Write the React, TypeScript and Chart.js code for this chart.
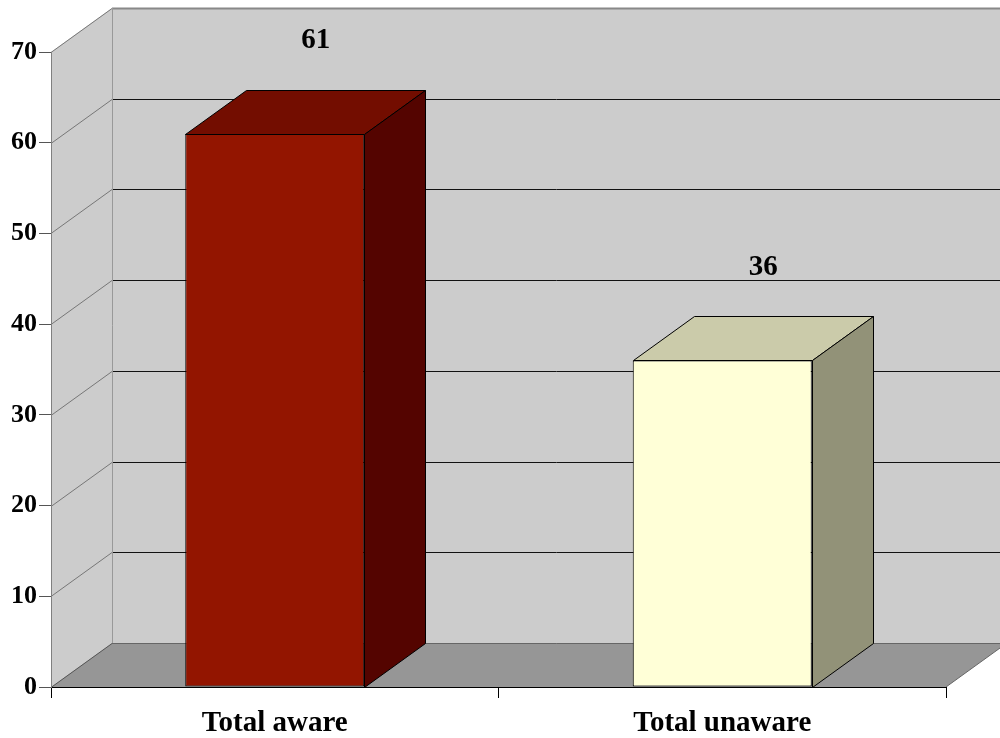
import React, { useEffect, useRef } from "react";
import { Chart, registerables } from "chart.js";

Chart.register(...registerables);

const categories = ["Total aware", "Total unaware"];
const values = [61, 36];
const yMin = 0;
const yMax = 70;
const yStep = 10;

const FRONT = ["#931500", "#FFFFD7"];
const TOP = ["#730D00", "#CBCBAA"];
const SIDE = ["#540400", "#929278"];
const WALL = "#CCCCCC";
const FLOOR = "#969696";
const DX = 61;
const DY = -44;
const FONT = '"Liberation Serif", "Times New Roman", serif';

const threeD = {
  id: "threeD",
  beforeDraw(chart: any) {
    const { ctx, chartArea } = chart;
    const ys = chart.scales.y;
    const { left, right, top, bottom } = chartArea;
    ctx.save();
    // back wall
    ctx.fillStyle = WALL;
    ctx.fillRect(left + DX, top + DY, right - left + 100, bottom - top);
    // side wall
    ctx.beginPath();
    ctx.moveTo(left, top);
    ctx.lineTo(left + DX, top + DY);
    ctx.lineTo(left + DX, bottom + DY);
    ctx.lineTo(left, bottom);
    ctx.closePath();
    ctx.fill();
    // floor
    ctx.fillStyle = FLOOR;
    ctx.beginPath();
    ctx.moveTo(left, bottom);
    ctx.lineTo(right, bottom);
    ctx.lineTo(right + DX, bottom + DY);
    ctx.lineTo(left + DX, bottom + DY);
    ctx.closePath();
    ctx.fill();
    // gridlines
    ctx.lineWidth = 1;
    for (let v = yMin; v <= yMax; v += yStep) {
      const yp = Math.round(ys.getPixelForValue(v));
      const yb = yp + DY + 0.5;
      ctx.strokeStyle = v === yMin ? "#666666" : v === yMax ? "#888888" : "#111111";
      ctx.lineWidth = v === yMax ? 2 : 1;
      ctx.beginPath();
      ctx.moveTo(left + DX, yb);
      ctx.lineTo(chart.width + 10, yb);
      ctx.stroke();
      ctx.lineWidth = 1;
      ctx.strokeStyle = v === yMin ? "#555555" : "#777777";
      ctx.beginPath();
      ctx.moveTo(left, yp + 0.5);
      ctx.lineTo(left + DX, yb);
      ctx.stroke();
    }
    // back wall left edge
    ctx.strokeStyle = "#999999";
    ctx.beginPath();
    ctx.moveTo(left + DX + 0.5, top + DY);
    ctx.lineTo(left + DX + 0.5, bottom + DY);
    ctx.stroke();
    // floor right edge
    ctx.strokeStyle = "#666666";
    ctx.beginPath();
    ctx.moveTo(right, bottom);
    ctx.lineTo(right + DX, bottom + DY);
    ctx.stroke();
    ctx.restore();
  },
  afterDatasetsDraw(chart: any) {
    const { ctx } = chart;
    const meta = chart.getDatasetMeta(0);
    ctx.save();
    ctx.lineWidth = 1;
    ctx.strokeStyle = "#000000";
    meta.data.forEach((bar: any, i: number) => {
      const { x, y, base, width } = bar.getProps(["x", "y", "base", "width"], true);
      const l = Math.round(x - width / 2) + 0.5;
      const r = Math.round(x + width / 2) + 0.5;
      const t = Math.round(y) + 0.5;
      const b = Math.round(base) + 0.5;
      // top face
      ctx.fillStyle = TOP[i];
      ctx.beginPath();
      ctx.moveTo(l, t);
      ctx.lineTo(r, t);
      ctx.lineTo(r + DX, t + DY);
      ctx.lineTo(l + DX, t + DY);
      ctx.closePath();
      ctx.fill();
      ctx.stroke();
      // side face
      ctx.fillStyle = SIDE[i];
      ctx.beginPath();
      ctx.moveTo(r, t);
      ctx.lineTo(r + DX, t + DY);
      ctx.lineTo(r + DX, b + DY);
      ctx.lineTo(r, b);
      ctx.closePath();
      ctx.fill();
      ctx.stroke();
      // value label
      ctx.fillStyle = "#000000";
      ctx.font = `bold 29px ${FONT}`;
      ctx.textAlign = "center";
      ctx.textBaseline = "middle";
      ctx.fillText(String(values[i]), x + 41, y - 93);
    });
    ctx.restore();
  },
};

export default function App() {
  const ref = useRef<HTMLCanvasElement | null>(null);
  useEffect(() => {
    if (!ref.current) return;
    const chart = new Chart(ref.current, {
      type: "bar",
      data: {
        labels: categories,
        datasets: [
          {
            data: values,
            backgroundColor: FRONT,
            borderColor: "#000000",
            borderWidth: 1,
            borderSkipped: false,
            barPercentage: 0.8,
            categoryPercentage: 0.5,
          },
        ],
      },
      options: {
        responsive: false,
        animation: false,
        layout: { padding: { top: 52, right: 54, left: 0, bottom: 0 } },
        plugins: { legend: { display: false }, tooltip: { enabled: false } },
        scales: {
          x: {
            afterFit: (s: any) => {
              s.height = 51;
            },
            grid: { drawOnChartArea: false, drawTicks: true, tickLength: 11, color: "#000000", offset: true },
            border: { color: "#000000", width: 1 },
            ticks: { color: "#000000", font: { family: FONT, weight: "bold", size: 29 }, padding: 8 },
          },
          y: {
            min: yMin,
            max: yMax,
            afterFit: (s: any) => {
              s.width = 51;
            },
            grid: { drawOnChartArea: false, drawTicks: true, tickLength: 12, color: "#555555" },
            border: { color: "#808080", width: 1 },
            ticks: { stepSize: yStep, color: "#000000", font: { family: FONT, weight: "bold", size: 26 }, padding: 2 },
          },
        },
      },
      plugins: [threeD],
    });
    return () => chart.destroy();
  }, []);
  return (
    <div style={{ position: "absolute", left: 0, top: 0, width: 1000, height: 738 }}>
      <canvas ref={ref} width={1000} height={738} />
    </div>
  );
}
